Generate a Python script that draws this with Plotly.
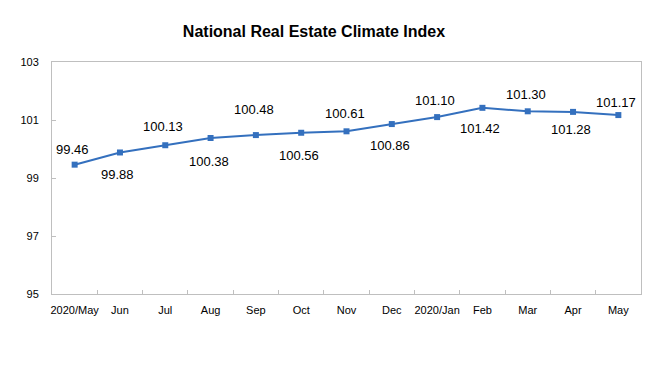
import plotly.graph_objects as go

categories = ["2020/May", "Jun", "Jul", "Aug", "Sep", "Oct", "Nov", "Dec",
              "2020/Jan", "Feb", "Mar", "Apr", "May"]
values = [99.46, 99.88, 100.13, 100.38, 100.48, 100.56, 100.61, 100.86,
          101.10, 101.42, 101.30, 101.28, 101.17]
y_ticks = [95, 97, 99, 101, 103]

# label placement (pixels above (+) / below (-) each point)
label_shift = [15, -22, 19, -24, 26, -23, 18, -21, 17, -21, 17, -18, 13]

line_color = "#3470BE"
axis_color = "#BFBFBF"
font_family = "Liberation Sans, Arial, sans-serif"

# page body has an 8px default margin; layout values compensate for it
W, H = 659, 386
off = 8

fig = go.Figure()
fig.add_trace(go.Scatter(
    x=categories, y=values, mode="lines+markers",
    line=dict(color=line_color, width=2),
    marker=dict(symbol="square", size=6, color=line_color),
    hoverinfo="skip", showlegend=False,
))

for c, v, s in zip(categories, values, label_shift):
    fig.add_annotation(
        x=c, y=v, text=f"{v:.2f}", showarrow=False,
        yshift=s, xshift=-2,
        font=dict(family=font_family, size=13, color="#000000"),
    )

fig.update_layout(
    width=W, height=H,
    margin=dict(l=49 - off, r=W - (641 - off), t=62 - off, b=H - (294 - off)),
    paper_bgcolor="white", plot_bgcolor="white",
    font=dict(family=font_family, size=11, color="#000000"),
    title=dict(text="<b>National Real Estate Climate Index</b>",
               x=(314 - off) / W, xanchor="center",
               y=1 - (31 - off) / H, yanchor="middle",
               font=dict(family=font_family, size=16, color="#000000")),
)
fig.update_xaxes(
    type="category", categoryorder="array", categoryarray=categories,
    range=[-0.5, len(categories) - 0.5],
    showgrid=False, zeroline=False,
    showline=True, linecolor=axis_color, linewidth=1, mirror=True,
    ticks="inside", tickson="boundaries", ticklen=4, tickcolor=axis_color,
    tickangle=0, ticklabelstandoff=6,
    tickfont=dict(family=font_family, size=11, color="#000000"),
)
fig.update_yaxes(
    range=[95, 103], tickvals=y_ticks, ticktext=[str(t) for t in y_ticks],
    showgrid=False, zeroline=False,
    showline=True, linecolor=axis_color, linewidth=1, mirror=True,
    ticks="inside", ticklen=4, tickcolor=axis_color, ticklabelstandoff=10,
    tickfont=dict(family=font_family, size=11, color="#000000"),
)

fig.write_html("out.html")
